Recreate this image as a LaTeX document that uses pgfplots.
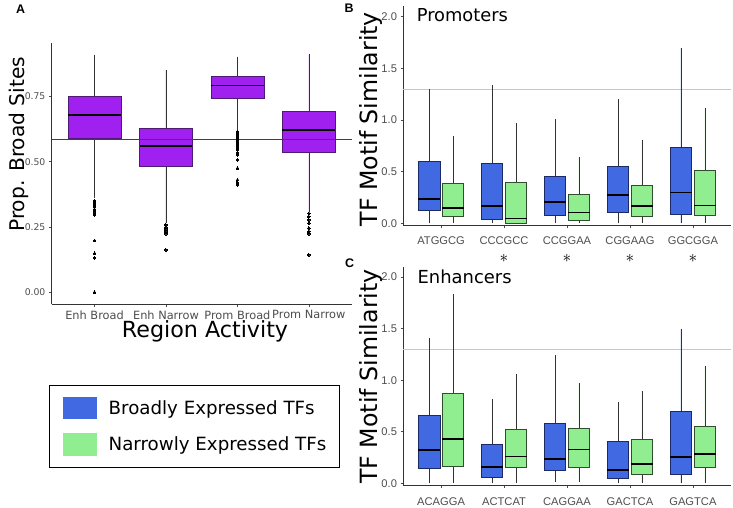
\documentclass[border=0pt]{standalone}
\usepackage{pgfplots}
\pgfplotsset{compat=1.18}
\usepgfplotslibrary{statistics}
\usepackage{fontspec}
\setmainfont{DejaVu Sans}
\newfontfamily\lib{Liberation Sans}

\definecolor{rpurple}{HTML}{A020F0}
\definecolor{pedge}{HTML}{4E1A73}
\definecolor{bblue}{HTML}{4169E1}
\definecolor{bedge}{HTML}{1B2A66}
\definecolor{lgreen}{HTML}{90EE90}
\definecolor{gedge}{HTML}{2F4F2F}
\definecolor{tgray}{HTML}{4D4D4D}
\definecolor{whisk}{HTML}{333333}

\pgfplotsset{
  gg/.style={scale only axis, axis lines*=left,
    axis line style={draw=black!80, line width=0.6bp},
    tick align=outside, major tick length=2.8bp,
    tick style={draw=black!70, line width=0.6bp},
    /pgf/number format/assume math mode=true, clip=false},
  bx/.style={forget plot, mark=*, mark size=1.4bp,
    mark options={fill=black, draw=black, line width=0pt}, line width=0.6bp,
    boxplot/draw direction=y, boxplot/whisker extend=0,
    boxplot/every median/.style={draw=black, line width=1.8bp},
    boxplot/every whisker/.style={draw=whisk, line width=0.6bp}},
  apl/.style={bx, fill=rpurple, draw=pedge, boxplot/box extend=0.74},
  bpl/.style={bx, fill=bblue, draw=bedge, boxplot/box extend=0.34},
  gpl/.style={bx, fill=lgreen, draw=gedge, boxplot/box extend=0.34},
  tfaxis/.style={gg, width=327.4bp, xmin=0.4, xmax=5.6, ymin=-0.02, ymax=2.1,
    xtick={1,2,3,4,5}, ytick={0,0.5,1,1.5,2}, yticklabels={0.0,0.5,1.0,1.5,2.0},
    ticklabel style={font=\lib\fontsize{11.2}{11.2}\selectfont, text=tgray},
    ylabel={TF Motif Similarity},
    ylabel style={font=\fontsize{23.8}{23.8}\selectfont, anchor=center}},
}

% position, lower whisker, Q1, median, Q3, upper whisker
\newcommand{\bp}[7]{\addplot[#1, boxplot prepared={draw position=#2,
  lower whisker=#3, lower quartile=#4, median=#5, upper quartile=#6,
  upper whisker=#7}] coordinates {};}

\begin{document}
\begin{tikzpicture}
\path[use as bounding box] (0,0) rectangle (733bp,508bp);

% ---- A ----
\begin{axis}[gg, at={(51.7bp,203.7bp)}, anchor=south west,
  width=300bp, height=261.6bp,
  xmin=0.4, xmax=4.6, ymin=-0.046, ymax=0.956,
  xtick={1,2,3,4}, xticklabels={Enh Broad,Enh Narrow,Prom Broad,Prom Narrow},
  ytick={0,0.25,0.5,0.75}, yticklabels={0.00,0.25,0.50,0.75},
  xticklabel style={font=\fontsize{11.4}{11.4}\selectfont, text=tgray},
  yticklabel style={font=\fontsize{9.3}{9.3}\selectfont, text=tgray},
  xlabel={Region Activity},
  xlabel style={at={(axis description cs:0.511,-0.105)}, anchor=center,
    font=\fontsize{22.3}{22.3}\selectfont},
  ylabel={Prop. Broad Sites},
  ylabel style={at={(axis description cs:-0.108,0.612)}, anchor=center,
    font=\fontsize{20.3}{20.3}\selectfont}]
\addplot[apl, boxplot prepared={draw position=1, lower whisker=0.36,
  lower quartile=0.590, median=0.680, upper quartile=0.751, upper whisker=0.910}]
  table[row sep=\\, y index=0] {y\\0.350\\0.342\\0.335\\0.327\\0.318\\0.310\\0.300\\0.296\\0.198\\0.149\\0.132\\0.0\\};
\addplot[apl, boxplot prepared={draw position=2, lower whisker=0.265,
  lower quartile=0.483, median=0.560, upper quartile=0.629, upper whisker=0.852}]
  table[row sep=\\, y index=0] {y\\0.258\\0.250\\0.243\\0.236\\0.229\\0.224\\0.162\\};
\addplot[apl, boxplot prepared={draw position=3, lower whisker=0.622,
  lower quartile=0.744, median=0.792, upper quartile=0.826, upper whisker=0.903}]
  table[row sep=\\, y index=0] {y\\0.615\\0.607\\0.600\\0.593\\0.585\\0.578\\0.570\\0.562\\0.555\\0.545\\0.535\\0.526\\0.507\\0.475\\0.430\\0.420\\0.411\\};
\addplot[apl, boxplot prepared={draw position=4, lower whisker=0.309,
  lower quartile=0.538, median=0.622, upper quartile=0.692, upper whisker=0.913}]
  table[row sep=\\, y index=0] {y\\0.302\\0.290\\0.277\\0.265\\0.246\\0.233\\0.224\\0.143\\};
\addplot[forget plot, draw=black!75, line width=0.8bp] coordinates {(0.4,0.584) (4.6,0.584)};
\end{axis}

% ---- B ----
\begin{axis}[tfaxis, at={(403.3bp,282.5bp)}, anchor=south west, height=219.1bp,
  xticklabels={ATGGCG,CCCGCC,CCGGAA,CGGAAG,GGCGGA},
  xticklabel style={yshift=-4.5bp},
  extra x ticks={2,3,4,5},
  extra x tick labels={$\ast$,$\ast$,$\ast$,$\ast$},
  extra x tick style={major tick length=0pt,
    xticklabel style={yshift=-20.6bp, font=\fontsize{17}{17}\selectfont, text=black}},
  ylabel style={at={(axis description cs:-0.099,0.485)}}]
\addplot[forget plot, draw=black!22, line width=0.8bp] coordinates {(0.4,1.3) (5.6,1.3)};
\bp{bpl}{0.81}{0}{0.123}{0.235}{0.600}{1.297}
\bp{gpl}{1.19}{0}{0.065}{0.152}{0.387}{0.845}
\bp{bpl}{1.81}{0}{0.042}{0.171}{0.581}{1.339}
\bp{gpl}{2.19}{0}{0.002}{0.048}{0.394}{0.974}
\bp{bpl}{2.81}{0}{0.074}{0.210}{0.458}{1.010}
\bp{gpl}{3.19}{0}{0.026}{0.106}{0.284}{0.645}
\bp{bpl}{3.81}{0}{0.110}{0.277}{0.555}{1.203}
\bp{gpl}{4.19}{0}{0.065}{0.165}{0.371}{0.806}
\bp{bpl}{4.81}{0}{0.084}{0.300}{0.735}{1.694}
\bp{gpl}{5.19}{0}{0.081}{0.174}{0.510}{1.113}
\node[anchor=base west, font=\fontsize{17.9}{17.9}\selectfont] at (rel axis cs:0.0305,0.929) {Promoters};
\end{axis}

% ---- C ----
\begin{axis}[tfaxis, at={(403.3bp,23bp)}, anchor=south west, height=218.3bp,
  ymin=-0.016,
  xticklabels={ACAGGA,ACTCAT,CAGGAA,GACTCA,GAGTCA},
  xticklabel style={yshift=-6bp},
  ylabel style={at={(axis description cs:-0.099,0.497)}},
  legend style={at={(-0.6378,0.2687)}, anchor=center, draw=black, line width=0.9bp,
    inner xsep=13bp, inner ysep=12bp, row sep=14bp,
    font=\fontsize{18.3}{18.3}\selectfont, nodes={inner sep=0pt},
    /tikz/every odd column/.append style={column sep=11.4bp}},
  legend cell align=left,
  legend image code/.code={\fill[#1, draw=none] (0bp,-11.15bp) rectangle (34.6bp,11.15bp);}]
\addplot[forget plot, draw=black!22, line width=0.8bp] coordinates {(0.4,1.3) (5.6,1.3)};
\bp{bpl}{0.81}{0}{0.145}{0.323}{0.661}{1.413}
\bp{gpl}{1.19}{0}{0.168}{0.432}{0.877}{1.839}
\bp{bpl}{1.81}{0}{0.055}{0.161}{0.377}{0.813}
\bp{gpl}{2.19}{0}{0.152}{0.261}{0.526}{1.058}
\bp{bpl}{2.81}{0.01}{0.129}{0.235}{0.584}{1.242}
\bp{gpl}{3.19}{0.016}{0.155}{0.329}{0.532}{0.974}
\bp{bpl}{3.81}{0}{0.045}{0.126}{0.403}{0.790}
\bp{gpl}{4.19}{0}{0.090}{0.184}{0.423}{0.897}
\bp{bpl}{4.81}{0}{0.087}{0.252}{0.700}{1.494}
\bp{gpl}{5.19}{0}{0.158}{0.287}{0.555}{1.139}
\addlegendimage{fill=bblue}
\addlegendentry{Broadly Expressed TFs}
\addlegendimage{fill=lgreen}
\addlegendentry{Narrowly Expressed TFs}
\node[anchor=base west, font=\fontsize{18}{18}\selectfont] at (rel axis cs:0.033,0.924) {Enhancers};
\end{axis}

\node[font=\lib\bfseries\fontsize{12.5}{12.5}\selectfont] at (20.5bp,498.3bp) {A};
\node[font=\lib\bfseries\fontsize{12.5}{12.5}\selectfont] at (349bp,499.7bp) {B};
\node[font=\lib\bfseries\fontsize{12.5}{12.5}\selectfont] at (349.5bp,245bp) {C};
\end{tikzpicture}
\end{document}
